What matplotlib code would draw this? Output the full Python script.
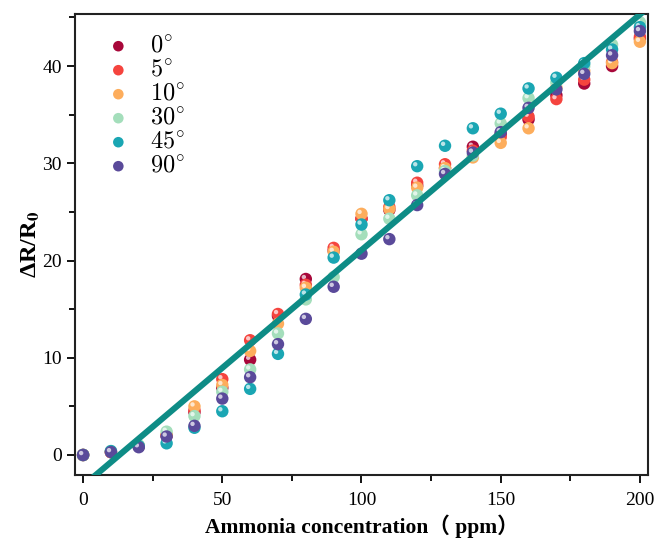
import matplotlib
matplotlib.use("Agg")
import matplotlib.pyplot as plt
from matplotlib.transforms import offset_copy
from matplotlib.ticker import MultipleLocator
import numpy as np

# concentration (ppm)
conc = [0, 10, 20, 30, 40, 50, 60, 70, 80, 90, 100, 110, 120, 130, 140, 150, 160, 170, 180, 190, 200]

# dR/R0 per bending angle
r_0 = [0, 0.3, 0.9, 2.0, 4.4, 6.9, 9.8, 14.3, 18.1, 21.0, 24.3, 25.2, 27.7, 29.5, 31.7, 33.0, 34.5, 37.0, 38.2, 40.0, 42.8]
r_5 = [0, 0.3, 0.9, 2.0, 4.6, 7.8, 11.8, 14.5, 17.5, 21.3, 24.3, 25.5, 28.0, 29.9, 31.3, 32.7, 34.8, 36.6, 38.6, 40.4, 43.0]
r_10 = [0, 0.3, 0.9, 2.1, 5.0, 7.2, 10.7, 13.5, 17.2, 20.9, 24.8, 25.3, 27.5, 29.5, 30.6, 32.1, 33.6, 37.8, 39.5, 40.3, 42.5]
r_30 = [0, 0.4, 1.0, 2.4, 4.0, 6.5, 8.8, 12.5, 16.0, 18.3, 22.7, 24.3, 26.7, 29.2, 30.8, 34.1, 36.7, 38.3, 40.0, 42.2, 44.5]
r_45 = [0, 0.4, 0.9, 1.2, 2.8, 4.5, 6.8, 10.4, 16.5, 20.3, 23.7, 26.2, 29.7, 31.8, 33.6, 35.1, 37.7, 38.8, 40.3, 41.7, 44.0]
r_90 = [0, 0.3, 0.8, 1.9, 3.0, 5.8, 8.0, 11.4, 14.0, 17.3, 20.7, 22.2, 25.7, 28.9, 31.1, 33.2, 35.7, 37.6, 39.2, 41.1, 43.6]

labels = [r"$0^{\circ}$", r"$5^{\circ}$", r"$10^{\circ}$", r"$30^{\circ}$", r"$45^{\circ}$", r"$90^{\circ}$"]
series = [r_0, r_5, r_10, r_30, r_45, r_90]
colors = ["#A8083A", "#F5443E", "#FDAD5C", "#A4DEBB", "#1AA6B3", "#5A4A9A"]

# linear fit shown in the figure
fit_slope = 0.2423
fit_intercept = -3.16
fit_x = [0, 210]

plt.rcParams["mathtext.fontset"] = "cm"

fig = plt.figure(figsize=(6.54, 5.43), dpi=100)
ax = fig.add_axes([0.1147, 0.1252, 0.8761, 0.849])

hl = offset_copy(ax.transData, fig=fig, x=-1.4, y=1.4, units="points")
for ys, c, lab in zip(series, colors, labels):
    ax.scatter(conc, ys, s=80, color=c, edgecolors="none", zorder=3, label=lab)
    ax.scatter(conc, ys, s=10, color="white", alpha=0.7, edgecolors="none",
               zorder=3, transform=hl)

fx = np.array(fit_x, dtype=float)
ax.plot(fx, fit_slope * fx + fit_intercept, color="#0E8C86", lw=4.4, zorder=4,
        solid_capstyle="butt")

ax.set_xlim(-2.9, 202.9)
ax.set_ylim(-2.06, 45.35)
ax.xaxis.set_major_locator(MultipleLocator(50))
ax.xaxis.set_minor_locator(MultipleLocator(25))
ax.yaxis.set_major_locator(MultipleLocator(10))
ax.yaxis.set_minor_locator(MultipleLocator(5))
ax.tick_params(which="both", direction="out", top=False, right=False,
               width=1.3, labelsize=14)
ax.tick_params(axis="x", which="major", pad=6)
ax.tick_params(which="major", length=6)
ax.tick_params(which="minor", length=4)
for lab in ax.get_xticklabels() + ax.get_yticklabels():
    lab.set_family("Liberation Serif")
for s in ax.spines.values():
    s.set_linewidth(1.5)
    s.set_color("#222222")

ax.set_xlabel("Ammonia concentration（ ppm）", fontsize=15.5, fontweight="bold",
              family=["Liberation Serif", "Noto Sans CJK SC"], labelpad=4)
ax.set_ylabel(r"ΔR/R$_\mathbf{0}$", fontsize=17.5, fontweight="bold",
              family="Liberation Serif", math_fontfamily="stix", labelpad=0)

leg = ax.legend(loc="upper left", frameon=False,
                prop={"size": 17.5},
                bbox_to_anchor=(-0.005, 1.005), labelspacing=0.0,
                handletextpad=0.3, markerscale=0.85)

fig.savefig("out.png", dpi=100)
